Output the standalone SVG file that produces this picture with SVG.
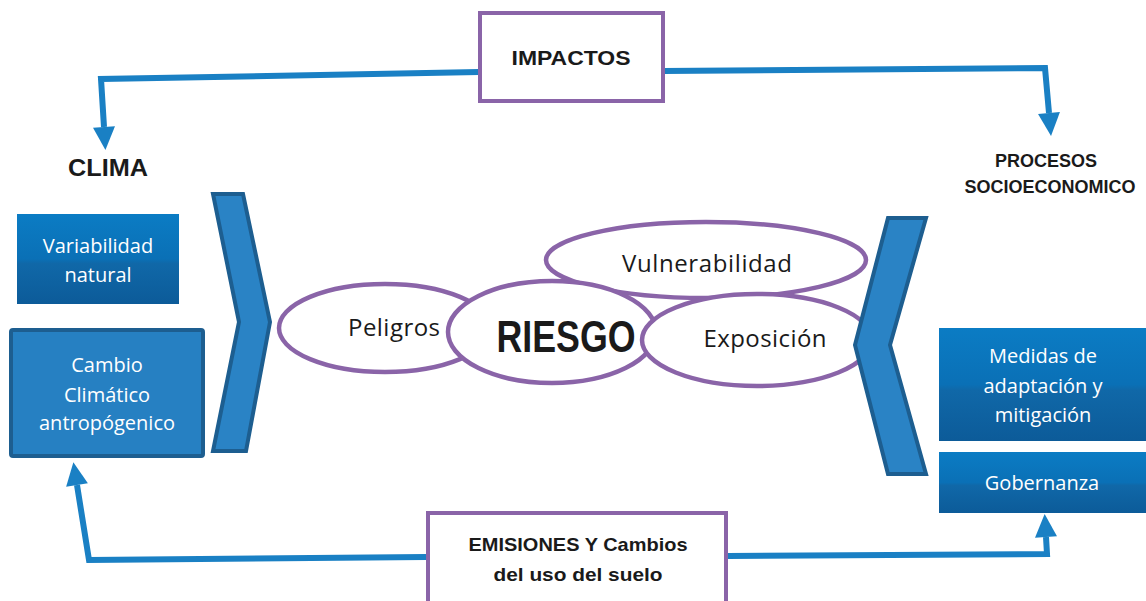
<svg xmlns="http://www.w3.org/2000/svg" width="1146" height="601" viewBox="0 0 1146 601">
<defs>
  <linearGradient id="gb" x1="0" y1="0" x2="0" y2="1">
    <stop offset="0" stop-color="#0b7cc4"/>
    <stop offset="0.5" stop-color="#0a70b6"/>
    <stop offset="0.55" stop-color="#1068a8"/>
    <stop offset="1" stop-color="#0c5b99"/>
  </linearGradient>
  <marker id="ah" markerUnits="userSpaceOnUse" markerWidth="26" markerHeight="24" refX="0" refY="11" orient="auto" overflow="visible">
    <path d="M0,0 L23,11 L0,22 z" fill="#1a80c4"/>
  </marker>
  <style>
    .conn { fill: none; stroke: #1a80c4; stroke-width: 6; stroke-linejoin: miter; }
    .pbox { fill: #ffffff; stroke: #8a64a8; stroke-width: 4; }
    .ell { fill: #ffffff; stroke: #8a64a8; stroke-width: 4.5; }
    .chev { fill: #2a83c5; stroke: #1d5e90; stroke-width: 4; stroke-linejoin: miter; }
    .gbox { fill: url(#gb); }
    .wt { font-family: "Open Sans", "Liberation Sans", sans-serif; font-size: 20px; fill: #ffffff; text-anchor: middle; }
    .et { font-family: "Open Sans", "Liberation Sans", sans-serif; font-size: 24px; fill: #1a1a1a; text-anchor: middle; }
    .bt { font-family: "Liberation Sans", sans-serif; font-weight: bold; fill: #1a1a1a; text-anchor: middle; }
  </style>
</defs>

<g id="connectors">
  <polyline class="conn" points="479,72 101,79 104,127" marker-end="url(#ah)"/>
  <polyline class="conn" points="663,71 1045,68 1049,113" marker-end="url(#ah)"/>
  <polyline class="conn" points="426,557 89,560 77,485" marker-end="url(#ah)"/>
  <polyline class="conn" points="728,556 1047,554 1046,537" marker-end="url(#ah)"/>
</g>

<g id="impactos">
  <rect class="pbox" x="480" y="13" width="183" height="88"/>
  <text class="bt" x="571" y="65" font-size="21" textLength="119" lengthAdjust="spacingAndGlyphs">IMPACTOS</text>
</g>

<g id="emisiones">
  <rect class="pbox" x="428" y="513" width="298" height="92"/>
  <text class="bt" x="578" y="551" font-size="19" textLength="219" lengthAdjust="spacingAndGlyphs">EMISIONES Y Cambios</text>
  <text class="bt" x="578" y="581" font-size="19" textLength="169" lengthAdjust="spacingAndGlyphs">del uso del suelo</text>
</g>

<g id="clima">
  <text class="bt" x="108" y="176" font-size="23" textLength="80" lengthAdjust="spacingAndGlyphs">CLIMA</text>
</g>

<g id="procesos">
  <text class="bt" x="1046" y="167" font-size="18">PROCESOS</text>
  <text class="bt" x="1050" y="193" font-size="18">SOCIOECONOMICO</text>
</g>

<g id="variabilidad">
  <rect class="gbox" x="17" y="214" width="162" height="90"/>
  <text class="wt" x="98" y="253">Variabilidad</text>
  <text class="wt" x="98" y="282">natural</text>
</g>

<g id="cambio">
  <rect x="11" y="330" width="192" height="126" rx="2" fill="#2680c2" stroke="#1d5e90" stroke-width="4"/>
  <text class="wt" x="107" y="372">Cambio</text>
  <text class="wt" x="107" y="402">Climático</text>
  <text class="wt" x="107" y="430">antropógenico</text>
</g>

<g id="chevron-left">
  <polygon class="chev" points="213,194 243,194 270,322 246,451 213,451 239,322"/>
</g>

<g id="vulnerabilidad">
  <ellipse class="ell" cx="706" cy="260" rx="160" ry="38"/>
  <text class="et" x="707" y="272" textLength="170">Vulnerabilidad</text>
</g>

<g id="peligros">
  <ellipse class="ell" cx="385" cy="328" rx="106" ry="44"/>
  <text class="et" x="394" y="336" textLength="92">Peligros</text>
</g>

<g id="riesgo">
  <ellipse class="ell" cx="552" cy="332" rx="104" ry="51"/>
  <text class="bt" x="566" y="352" font-size="44" textLength="139" lengthAdjust="spacingAndGlyphs">RIESGO</text>
</g>

<g id="exposicion">
  <ellipse class="ell" cx="757" cy="340" rx="115" ry="46"/>
  <text class="et" x="765" y="347" textLength="123">Exposición</text>
</g>

<g id="chevron-right">
  <polygon class="chev" points="888,218 926,218 890,345 926,474 888,474 855,345"/>
</g>

<g id="medidas">
  <rect class="gbox" x="939" y="328" width="207" height="113"/>
  <text class="wt" x="1043" y="363">Medidas de</text>
  <text class="wt" x="1043" y="393">adaptación y</text>
  <text class="wt" x="1043" y="422">mitigación</text>
</g>

<g id="gobernanza">
  <rect class="gbox" x="939" y="452" width="207" height="61"/>
  <text class="wt" x="1042" y="490">Gobernanza</text>
</g>
</svg>
